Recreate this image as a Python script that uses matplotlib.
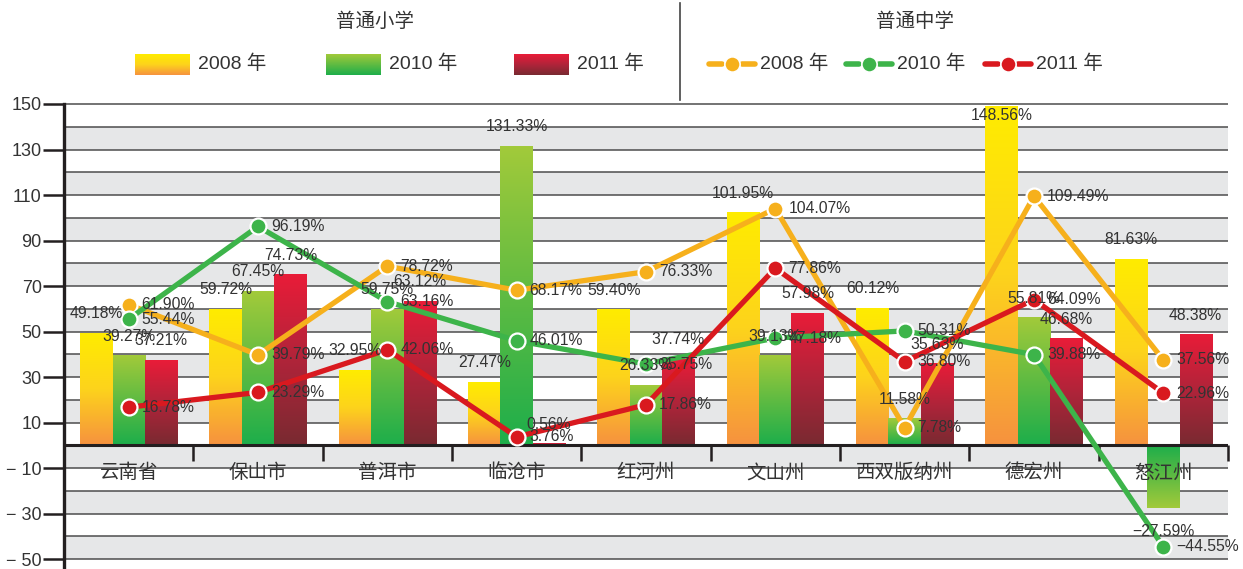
import numpy as np
import matplotlib.pyplot as plt
from matplotlib.colors import LinearSegmentedColormap

plt.rcParams['font.family'] = ['Liberation Sans', 'Noto Sans CJK SC']

# regions
categories = ['云南省', '保山市', '普洱市', '临沧市', '红河州', '文山州', '西双版纳州', '德宏州', '怒江州']

# 普通小学 (bars)
bar_2008 = [49.18, 59.72, 32.95, 27.47, 59.40, 101.95, 60.12, 148.56, 81.63]
bar_2010 = [39.27, 67.45, 59.75, 131.33, 26.33, 39.13, 11.58, 55.81, -27.59]
bar_2011 = [37.21, 74.73, 63.12, 0.56, 37.74, 57.98, 35.63, 46.68, 48.38]

# 普通中学 (lines)
line_2008 = [61.90, 39.79, 78.72, 68.17, 76.33, 104.07, 7.78, 109.49, 37.56]
line_2010 = [55.44, 96.19, 63.16, 46.01, 35.75, 47.18, 50.31, 39.88, -44.55]
line_2011 = [16.78, 23.29, 42.06, 3.76, 17.86, 77.86, 36.80, 64.09, 22.96]

years = ['2008 年', '2010 年', '2011 年']
y_ticks = list(range(-50, 151, 20))

TEXT = '#333333'
DARK = '#231f20'
BAND = '#e6e7e8'
line_colors = ['#f6b01c', '#3db44a', '#d9191f']
bar_cmaps = [
    LinearSegmentedColormap.from_list('y', ['#f6923f', '#fdd31c', '#ffec00']),
    LinearSegmentedColormap.from_list('g', ['#1dae4b', '#5fbb42', '#a2ca3a']),
    LinearSegmentedColormap.from_list('r', ['#792a31', '#b0243a', '#e91c38']),
]
grad = np.linspace(0, 1, 256).reshape(-1, 1)


def fmt(v):
    return f'{v:.2f}%'.replace('-', '−')


W, H = 1243, 569
fig = plt.figure(figsize=(W / 100, H / 100), dpi=100)


def px_rect(x0, y0, x1, y1):
    return [x0 / W, 1 - y1 / H, (x1 - x0) / W, (y1 - y0) / H]


ax = fig.add_axes(px_rect(64, 104, 1228, 569))
YMIN, YMAX = -54.3, 150

# striped background with grid lines every 10
for lo in range(-50, 150, 20):
    ax.axhspan(lo, lo + 10, color=BAND, lw=0, zorder=0)
ax.hlines(np.arange(-50, 151, 10), -0.5, 8.5, colors='#4d4d4d', lw=1.1,
          zorder=1, clip_on=False)

# gradient bars
width = 0.25
offsets = [-width, 0, width]
for vals, cmap, off in zip([bar_2008, bar_2010, bar_2011], bar_cmaps, offsets):
    for i, v in enumerate(vals):
        x0 = i + off - width / 2
        ax.imshow(grad, cmap=cmap, aspect='auto', origin='lower',
                  extent=(x0, x0 + width, 0, v), zorder=2,
                  interpolation='bilinear')
        # label above the bar (below for negatives, inside if it hits the top)
        if v >= 0:
            dy = 20 if v < 140 else -8
        else:
            dy = -23
        ax.annotate(fmt(v), (i + off, v), xytext=(0, dy),
                    textcoords='offset pixels', ha='center', va='center',
                    fontsize=11.3, color=TEXT, zorder=6)

# lines with white-edged dots
x = np.arange(len(categories))
for vals, c in zip([line_2008, line_2010, line_2011], line_colors):
    ax.plot(x, vals, color=c, lw=3.8, marker='o', ms=11.5, mfc=c, mec='white',
            mew=1.6, zorder=4, solid_joinstyle='round')
    for i, v in enumerate(vals):
        ax.annotate(fmt(v), (i, v), xytext=(13, 0), textcoords='offset pixels',
                    ha='left', va='center', fontsize=11.3, color=TEXT, zorder=6)

# zero line and category separators
ax.axhline(0, color=DARK, lw=2.2, zorder=3)
ax.vlines(np.arange(0.5, 9, 1), -7, 0, colors=DARK, lw=1.8, zorder=3,
          clip_on=False)
for i, cat in enumerate(categories):
    ax.text(i, -12, cat, ha='center', va='center', fontsize=14, color=TEXT,
            family='Noto Sans CJK SC', zorder=6)

ax.set_xlim(-0.5, 8.5)
ax.set_ylim(YMIN, YMAX)
ax.set_xticks([])
ax.set_yticks(y_ticks)
ax.set_yticklabels([str(t).replace('-', '− ') for t in y_ticks])
ax.tick_params(axis='y', length=15, width=1.8, color=DARK, labelsize=13,
               labelcolor=TEXT, pad=1)
for s in ['top', 'right', 'bottom']:
    ax.spines[s].set_visible(False)
ax.spines['left'].set_linewidth(2.4)
ax.spines['left'].set_color(DARK)
ax.spines['left'].set_zorder(5)

# header legend drawn in pixel space
lg = fig.add_axes([0, 0, 1, 1])
lg.set_xlim(0, W)
lg.set_ylim(H, 0)
lg.axis('off')

lg.text(375, 21, '普通小学', ha='center', va='center', fontsize=14,
        color=TEXT, family='Noto Sans CJK SC')
lg.text(915, 21, '普通中学', ha='center', va='center', fontsize=14,
        color=TEXT, family='Noto Sans CJK SC')
lg.plot([680, 680], [3, 100], color='#444444', lw=1.2)

swatch_x = [135, 326, 514]
for sx, cmap, label in zip(swatch_x, bar_cmaps, years):
    lg.imshow(grad, cmap=cmap, aspect='auto', origin='lower',
              extent=(sx, sx + 55, 75, 54), interpolation='bilinear')
    lg.text(sx + 63, 64, label, ha='left', va='center', fontsize=14, color=TEXT)

handle_x = [709, 846, 985]
for hx, c, label in zip(handle_x, line_colors, years):
    mid = hx + 23
    lg.plot([hx, mid - 10], [64, 64], color=c, lw=4, solid_capstyle='round')
    lg.plot([mid + 10, hx + 46], [64, 64], color=c, lw=4, solid_capstyle='round')
    lg.plot([mid], [64], marker='o', ms=11, mfc=c, mec='white', mew=1.2)
    lg.text(hx + 51, 64, label, ha='left', va='center', fontsize=14, color=TEXT)

lg.set_xlim(0, W)
lg.set_ylim(H, 0)

fig.savefig('out.png', dpi=100)
